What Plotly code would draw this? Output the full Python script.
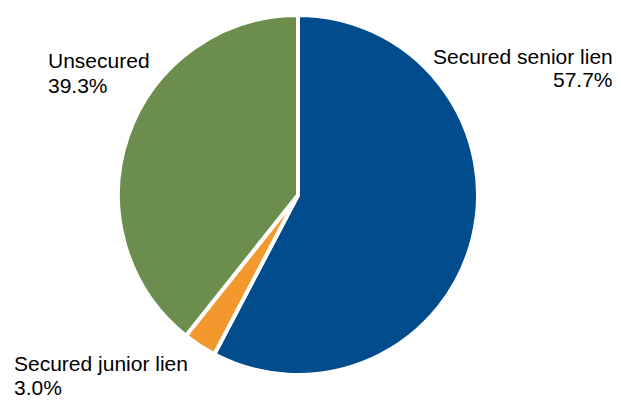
import plotly.graph_objects as go

labels = ["Secured senior lien", "Secured junior lien", "Unsecured"]
values = [57.7, 3.0, 39.3]
colors = ["#004C8D", "#F3982C", "#6B8E4E"]

W, H = 621, 400

fig = go.Figure(go.Pie(
    labels=labels, values=values, sort=False, direction="clockwise", rotation=0,
    marker=dict(colors=colors, line=dict(color="white", width=4)),
    textinfo="none", hoverinfo="label+percent",
    domain=dict(x=[118 / W, 478 / W], y=[1 - 375 / H, 1 - 15 / H]),
))

font = dict(family="Liberation Sans, Arial, sans-serif", size=21, color="#000000")
# (x, center-y of first line, anchor) in screen pixels
ann_pos = [
    (615, 56, "right"),
    (12, 363, "left"),
    (46, 61, "left"),
]
pitch = 24
anns = []
for lab, val, (px, py, anc) in zip(labels, values, ann_pos):
    for i, line in enumerate([lab, f"{val:.1f}%"]):
        anns.append(dict(
            text=line, showarrow=False, xref="paper", yref="paper",
            x=px / W, y=1 - (py + i * pitch) / H, xanchor=anc, yanchor="middle",
            font=font,
        ))

fig.update_layout(
    width=W, height=H, margin=dict(l=0, r=0, t=0, b=0),
    showlegend=False, paper_bgcolor="white", annotations=anns,
)
fig.write_html("out.html", config={"displayModeBar": False},
               post_script="document.body.style.margin='0';")
